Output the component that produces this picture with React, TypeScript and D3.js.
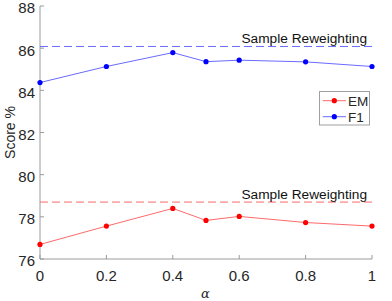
import React, { useEffect, useRef } from 'react';
import * as d3 from 'd3';

const alphas = [0, 0.2, 0.4, 0.5, 0.6, 0.8, 1];
const f1Scores = [84.37, 85.13, 85.79, 85.36, 85.43, 85.35, 85.13];
const emScores = [76.69, 77.56, 78.4, 77.83, 78.02, 77.73, 77.56];
const f1Baseline = 86.08;
const emBaseline = 78.7;
const xTicks = [0, 0.2, 0.4, 0.6, 0.8, 1];
const yTicks = [76, 78, 80, 82, 84, 86, 88];
const baselineLabel = 'Sample Reweighting';

const W = 392;
const H = 301;

export default function App() {
  const ref = useRef<SVGSVGElement>(null);

  useEffect(() => {
    if (!ref.current) return;
    const svg = d3.select(ref.current);
    svg.selectAll('*').remove();

    const font = '"Liberation Sans", Arial, sans-serif';
    const textColor = '#262626';
    const axisColor = '#9a9a9a';

    const x = d3.scaleLinear().domain([0, 1]).range([40, 372]);
    const y = d3.scaleLinear().domain([76, 88]).range([259, 6]);

    // Axes (left and bottom only, ticks inward)
    const g = svg.append('g');
    g.append('line')
      .attr('x1', x(0)).attr('x2', x(0))
      .attr('y1', y(88)).attr('y2', y(76))
      .attr('stroke', axisColor).attr('stroke-width', 1);
    g.append('line')
      .attr('x1', x(0)).attr('x2', x(1))
      .attr('y1', y(76)).attr('y2', y(76))
      .attr('stroke', axisColor).attr('stroke-width', 1);

    g.selectAll('.ytick')
      .data(yTicks)
      .enter().append('line')
      .attr('x1', x(0)).attr('x2', x(0) + 4)
      .attr('y1', d => y(d)).attr('y2', d => y(d))
      .attr('stroke', axisColor);
    g.selectAll('.ylab')
      .data(yTicks)
      .enter().append('text')
      .attr('x', 35)
      .attr('y', d => y(d) + 7.4)
      .attr('text-anchor', 'end')
      .attr('font-family', font)
      .attr('font-size', 15)
      .attr('fill', textColor)
      .text(d => d);

    g.selectAll('.xtick')
      .data(xTicks)
      .enter().append('line')
      .attr('x1', d => x(d)).attr('x2', d => x(d))
      .attr('y1', y(76)).attr('y2', y(76) - 4)
      .attr('stroke', axisColor);
    g.selectAll('.xlab')
      .data(xTicks)
      .enter().append('text')
      .attr('x', d => x(d))
      .attr('y', 281)
      .attr('text-anchor', 'middle')
      .attr('font-family', font)
      .attr('font-size', 15)
      .attr('fill', textColor)
      .text(d => d3.format('~g')(d));

    // Axis titles
    svg.append('text')
      .attr('transform', `translate(15,${(y(88) + y(76)) / 2}) rotate(-90)`)
      .attr('text-anchor', 'middle')
      .attr('font-family', font)
      .attr('font-size', 14)
      .attr('fill', textColor)
      .text('Score %');
    svg.append('text')
      .attr('x', 205.5)
      .attr('y', 298)
      .attr('text-anchor', 'middle')
      .attr('font-family', '"DejaVu Serif", serif')
      .attr('font-style', 'italic')
      .attr('font-size', 13)
      .attr('fill', textColor)
      .text('α');

    const series = [
      { values: f1Scores, base: f1Baseline, line: '#6a6aff', dot: '#0000ff' },
      { values: emScores, base: emBaseline, line: '#ff6a6a', dot: '#ff0000' },
    ];

    series.forEach(s => {
      // Baseline dashed
      svg.append('line')
        .attr('x1', x(0)).attr('x2', x(1))
        .attr('y1', y(s.base)).attr('y2', y(s.base))
        .attr('stroke', s.line)
        .attr('stroke-width', 1)
        .attr('stroke-dasharray', '8,4');
      svg.append('text')
        .attr('x', 367)
        .attr('y', y(s.base) - 3.5)
        .attr('text-anchor', 'end')
        .attr('font-family', font)
        .attr('font-size', 13.7)
        .attr('fill', '#111')
        .text(baselineLabel);

      const line = d3.line<number>()
        .x((_, i) => x(alphas[i]))
        .y(d => y(d));
      svg.append('path')
        .datum(s.values)
        .attr('fill', 'none')
        .attr('stroke', s.line)
        .attr('stroke-width', 1)
        .attr('d', line);
      svg.append('g').selectAll('circle')
        .data(s.values)
        .enter().append('circle')
        .attr('cx', (_, i) => x(alphas[i]))
        .attr('cy', d => y(d))
        .attr('r', 2.6)
        .attr('fill', s.dot);
    });

    // Legend
    const lg = svg.append('g');
    lg.append('rect')
      .attr('x', 319.5).attr('y', 91.5)
      .attr('width', 50).attr('height', 33.5)
      .attr('fill', '#fff')
      .attr('stroke', '#a0a0a0');
    const legendItems = [
      { label: 'EM', line: '#ff6a6a', dot: '#ff0000', yy: 100.7 },
      { label: 'F1', line: '#6a6aff', dot: '#0000ff', yy: 116.7 },
    ];
    legendItems.forEach(it => {
      lg.append('line')
        .attr('x1', 322.7).attr('x2', 346)
        .attr('y1', it.yy).attr('y2', it.yy)
        .attr('stroke', it.line);
      lg.append('circle')
        .attr('cx', 334.3).attr('cy', it.yy).attr('r', 2.6)
        .attr('fill', it.dot);
      lg.append('text')
        .attr('x', 348)
        .attr('y', it.yy + 4.8)
        .attr('font-family', font)
        .attr('font-size', 13.5)
        .attr('fill', textColor)
        .text(it.label);
    });
  }, []);

  return (
    <svg
      ref={ref}
      width={W}
      height={H}
      style={{ position: 'absolute', left: 0, top: 0, background: '#fff' }}
    />
  );
}
